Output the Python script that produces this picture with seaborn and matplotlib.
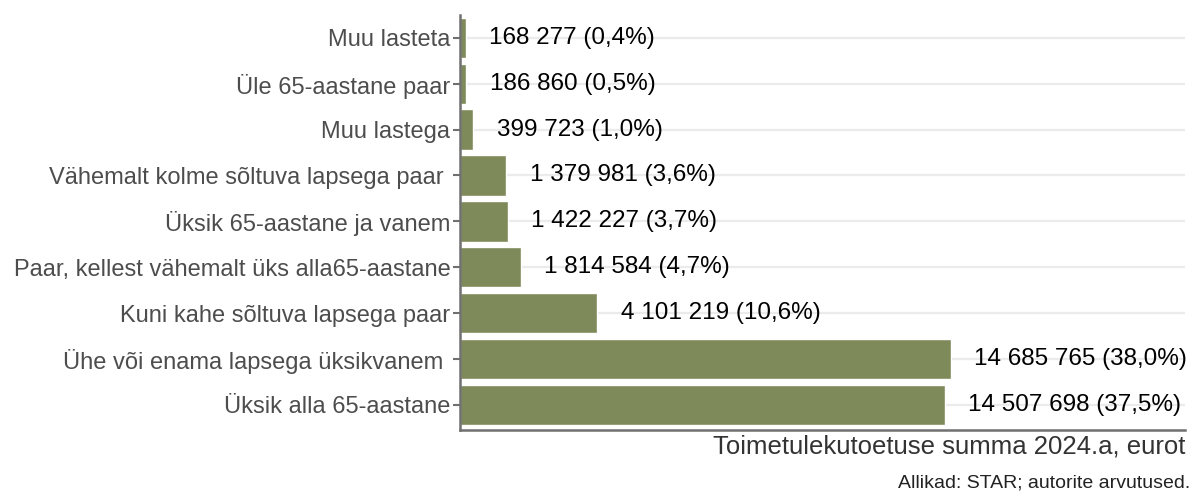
import matplotlib
matplotlib.use("Agg")
import matplotlib.pyplot as plt
import seaborn as sns
import pandas as pd

categories = [
    "Muu lasteta",
    "Üle 65-aastane paar",
    "Muu lastega",
    "Vähemalt kolme sõltuva lapsega paar ",
    "Üksik 65-aastane ja vanem",
    "Paar, kellest vähemalt üks alla65-aastane",
    "Kuni kahe sõltuva lapsega paar",
    "Ühe või enama lapsega üksikvanem ",
    "Üksik alla 65-aastane",
]
amounts = [168277, 186860, 399723, 1379981, 1422227, 1814584, 4101219, 14685765, 14507698]
shares = [0.4, 0.5, 1.0, 3.6, 3.7, 4.7, 10.6, 38.0, 37.5]

df = pd.DataFrame({"kategooria": categories, "summa": amounts, "osa": shares})

sns.set_theme(style="white")
plt.rcParams["font.family"] = ["Liberation Sans", "DejaVu Sans"]

fig = plt.figure(figsize=(12.03, 4.93), dpi=100)
ax = fig.add_axes([460 / 1203, 63 / 493, (1185 - 460) / 1203, (478 - 63) / 493])

# horizontal guide lines at every category, behind the bars
for i in range(len(categories)):
    ax.axhline(i, color="#ebebeb", lw=1.6, zorder=0)

sns.barplot(data=df, y="kategooria", x="summa", orient="h", color="#7f8a5a",
            saturation=1, width=0.88, ax=ax, zorder=2)

def fmt(v):
    return f"{v:,}".replace(",", " ")

for i, (v, p) in enumerate(zip(amounts, shares)):
    ax.annotate(f"{fmt(v)} ({p:.1f}%)".replace(".", ","), xy=(v, i),
                xytext=(17, 0), textcoords="offset points",
                va="center", ha="left", fontsize=17.5, color="black", zorder=3)

ax.set_xlim(0, 21.7e6)
ax.set_ylim(len(categories) - 0.45, -0.5)
ax.set_xticks([])
ax.set_ylabel("")
ax.set_xlabel("Toimetulekutoetuse summa 2024.a, eurot", fontsize=18.5,
              color="#333333", loc="right", labelpad=3)

for s in ["top", "right"]:
    ax.spines[s].set_visible(False)
for s in ["left", "bottom"]:
    ax.spines[s].set_color("#707070")
    ax.spines[s].set_linewidth(1.8)

ax.tick_params(axis="y", left=True, length=5, width=1.5, color="#707070",
               labelsize=17, labelcolor="#4d4d4d", pad=2)

fig.text(1190 / 1203, 2 / 493, "Allikad: STAR; autorite arvutused.",
         ha="right", va="bottom", fontsize=14, color="#222222")

fig.savefig("out.png", dpi=100)
